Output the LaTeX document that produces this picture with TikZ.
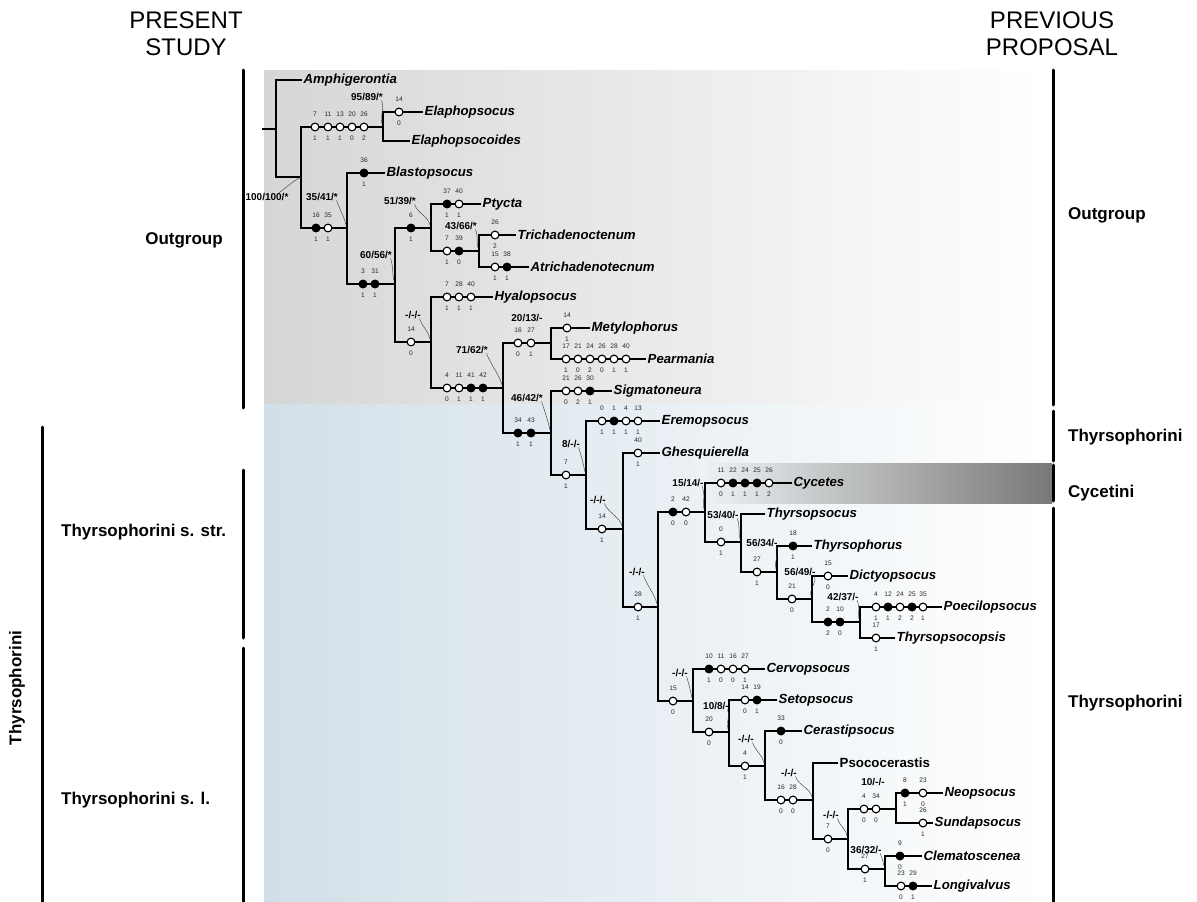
\documentclass[tikz,border=0pt]{standalone}
\usepackage{fontspec}
\setmainfont{Liberation Sans}
\definecolor{bggray}{HTML}{D6D6D6}
\definecolor{bgblue}{HTML}{D2DFE8}
\definecolor{boxdark}{HTML}{787878}
\definecolor{boxlight}{HTML}{EEF2F4}
\tikzset{
 br/.style={line width=1.8pt},
 chc/.style={circle,draw=black,line width=1.1pt,minimum size=7.8pt,inner sep=0pt},
 stn/.style={font=\fontsize{6.6}{7}\selectfont,inner sep=0pt,text=black!85},
 taxon/.style={font=\fontsize{13.2}{15}\selectfont\bfseries\itshape,anchor=west,inner sep=1.5pt},
 taxonup/.style={font=\fontsize{13.3}{15}\selectfont\bfseries,anchor=west,inner sep=1.5pt},
 sv/.style={font=\fontsize{10}{11}\selectfont\bfseries,inner sep=0.5pt},
 ld/.style={line width=0.45pt,black!75},
 grp/.style={font=\fontsize{17}{19}\selectfont\bfseries,inner sep=0pt},
 hdr/.style={font=\fontsize{24}{27}\selectfont,align=center,inner sep=0pt},
 bar/.style={line width=3pt,line cap=round},
}
\newcommand\chars[2]{%
  \foreach \cx/\cf/\ca/\cb in {#2}{%
    \node[chc,fill=\cf] (c\cx-#1) at (\cx,#1) {};
    \node[stn] (c\cx-#1a) at (\cx,#1-12.5) {\ca};
    \node[stn] (c\cx-#1b) at (\cx,#1+11) {\cb};
  }}
\newcommand\lead[2]{%
  \draw[ld] ([xshift=-2pt,yshift=1pt]#1.south east) .. controls +(3,9) and +(-2,-9) .. ([xshift=-1pt,yshift=3pt]#2);}
\begin{document}
\begin{tikzpicture}[x=1pt,y=-1pt]
\useasboundingbox (0,0) rectangle (1197,902);
% backgrounds
\shade[left color=bggray,right color=white] (264,70) rectangle (1045,404);
\shade[left color=bgblue,right color=white] (264,404) rectangle (1045,902);
\shade[left color=boxlight,right color=boxdark] (703,463) rectangle (1052,503);
% headers
\node[hdr] (hpresent) at (186,34) {PRESENT\\STUDY};
\node[hdr] (hprev) at (1052,34) {PREVIOUS\\PROPOSAL};
% left bars and labels
\draw[bar] (243,70) -- (243,408);
\draw[bar] (42,427) -- (42,905);
\draw[bar] (243,470) -- (243,638);
\draw[bar] (243,648) -- (243,905);
\node[grp] (lout) at (184,240) {Outgroup};
\node[grp,rotate=90] (lthy) at (17,688) {Thyrsophorini};
\node[grp,anchor=west] (lstr) at (61,532) {Thyrsophorini s. str.};
\node[grp,anchor=west] (lsl) at (61,800) {Thyrsophorini s. l.};
% right bars and labels
\draw[bar] (1053,70) -- (1053,405);
\draw[bar] (1053,411) -- (1053,461);
\draw[bar] (1053,465) -- (1053,501);
\draw[bar] (1053,508) -- (1053,905);
\node[grp,anchor=west] (rout) at (1068,215) {Outgroup};
\node[grp,anchor=west] (rthy1) at (1068,437) {Thyrsophorini};
\node[grp,anchor=west] (rcyc) at (1068,493) {Cycetini};
\node[grp,anchor=west] (rthy2) at (1068,703) {Thyrsophorini};
% internal nodes
\coordinate (R) at (262,129);
\coordinate (N0) at (276,129);
\coordinate (N1) at (301,177);
\coordinate (N2) at (383,127);
\coordinate (N3) at (347,228);
\coordinate (N4) at (395,284);
\coordinate (N5) at (431,228);
\coordinate (N6) at (431,342);
\coordinate (N7) at (479,251);
\coordinate (N8) at (503,388);
\coordinate (N9) at (551,343);
\coordinate (N10) at (551,433);
\coordinate (N11) at (586,475);
\coordinate (N12) at (623,529);
\coordinate (N13) at (658,607);
\coordinate (N14) at (705,512);
\coordinate (N15) at (693,701);
\coordinate (N16) at (741,542);
\coordinate (N17) at (777,572);
\coordinate (N18) at (812,599);
\coordinate (N19) at (860,622);
\coordinate (N20) at (729,732);
\coordinate (N21) at (765,766);
\coordinate (N22) at (813,800);
\coordinate (N23) at (848,839);
\coordinate (N24) at (896,809);
\coordinate (N25) at (885,869);
% taxa
\node[taxon] (Amph) at (302,80) {Amphigerontia};
\node[taxon] (Elap) at (423,112) {Elaphopsocus};
\node[taxon] (Elas) at (410,141) {Elaphopsocoides};
\node[taxon] (Blas) at (385,173) {Blastopsocus};
\node[taxon] (Ptyc) at (481,204) {Ptycta};
\node[taxon] (Tric) at (516,235) {Trichadenoctenum};
\node[taxon] (Atri) at (529,267) {Atrichadenotecnum};
\node[taxon] (Hyal) at (493,297) {Hyalopsocus};
\node[taxon] (Mety) at (590,328) {Metylophorus};
\node[taxon] (Pear) at (646,359) {Pearmania};
\node[taxon] (Sigm) at (612,391) {Sigmatoneura};
\node[taxon] (Erem) at (660,421) {Eremopsocus};
\node[taxon] (Ghes) at (660,453) {Ghesquierella};
\node[taxon] (Cyce) at (792,483) {Cycetes};
\node[taxon] (Thps) at (765,514) {Thyrsopsocus};
\node[taxon] (Thph) at (812,546) {Thyrsophorus};
\node[taxon] (Dict) at (848,576) {Dictyopsocus};
\node[taxon] (Poec) at (942,607) {Poecilopsocus};
\node[taxon] (Thpc) at (895,638) {Thyrsopsocopsis};
\node[taxon] (Cerv) at (765,669) {Cervopsocus};
\node[taxon] (Seto) at (777,700) {Setopsocus};
\node[taxon] (Cera) at (802,731) {Cerastipsocus};
\node[taxonup] (Psoc) at (838,763) {Psococerastis};
\node[taxon] (Neop) at (943,793) {Neopsocus};
\node[taxon] (Sund) at (933,823) {Sundapsocus};
\node[taxon] (Clem) at (922,856) {Clematoscenea};
\node[taxon] (Long) at (932,886) {Longivalvus};
% branches
\draw[br] (R) -- (N0);
\draw[br] (Amph) -| (N0) |- (N1);
\draw[br] (N2) -| (N1) |- (N3);
\draw[br] (Elap) -| (N2) |- (Elas);
\draw[br] (Blas) -| (N3) |- (N4);
\draw[br] (N5) -| (N4) |- (N6);
\draw[br] (Ptyc) -| (N5) |- (N7);
\draw[br] (Tric) -| (N7) |- (Atri);
\draw[br] (Hyal) -| (N6) |- (N8);
\draw[br] (N9) -| (N8) |- (N10);
\draw[br] (Mety) -| (N9) |- (Pear);
\draw[br] (Sigm) -| (N10) |- (N11);
\draw[br] (Erem) -| (N11) |- (N12);
\draw[br] (Ghes) -| (N12) |- (N13);
\draw[br] (N14) -| (N13) |- (N15);
\draw[br] (Cyce) -| (N14) |- (N16);
\draw[br] (Thps) -| (N16) |- (N17);
\draw[br] (Thph) -| (N17) |- (N18);
\draw[br] (Dict) -| (N18) |- (N19);
\draw[br] (Poec) -| (N19) |- (Thpc);
\draw[br] (Cerv) -| (N15) |- (N20);
\draw[br] (Seto) -| (N20) |- (N21);
\draw[br] (Cera) -| (N21) |- (N22);
\draw[br] (Psoc) -| (N22) |- (N23);
\draw[br] (N24) -| (N23) |- (N25);
\draw[br] (Neop) -| (N24) |- (Sund);
\draw[br] (Clem) -| (N25) |- (Long);
% characters
\chars{127}{315/white/7/1,328/white/11/1,340/white/13/1,352/white/20/0,364/white/26/2}
\chars{112}{399/white/14/0}
\chars{228}{316/black/16/1,328/white/35/1}
\chars{173}{364/black/36/1}
\chars{284}{363/black/3/1,375/black/31/1}
\chars{228}{411/black/6/1}
\chars{204}{447/black/37/1,459/white/40/1}
\chars{251}{447/white/7/1,459/black/39/0}
\chars{235}{495/white/26/2}
\chars{267}{495/white/15/1,507/black/38/1}
\chars{342}{411/white/14/0}
\chars{297}{447/white/7/1,459/white/28/1,471/white/40/1}
\chars{388}{447/white/4/0,459/white/11/1,471/black/41/1,483/black/42/1}
\chars{343}{518/white/16/0,531/white/27/1}
\chars{328}{567/white/14/1}
\chars{359}{566/white/17/1,578/white/21/0,590/white/24/2,602/white/26/0,614/white/28/1,626/white/40/1}
\chars{391}{566/white/21/0,578/white/26/2,590/black/30/1}
\chars{433}{518/black/34/1,531/black/43/1}
\chars{475}{566/white/7/1}
\chars{421}{602/white/0/1,614/black/1/1,626/white/4/1,638/white/13/1}
\chars{529}{602/white/14/1}
\chars{453}{638/white/40/1}
\chars{607}{638/white/28/1}
\chars{512}{673/black/2/0,686/white/42/0}
\chars{483}{721/white/11/0,733/black/22/1,745/black/24/1,757/black/25/1,769/white/26/2}
\chars{542}{721/white/0/1}
\chars{572}{757/white/27/1}
\chars{546}{793/black/18/1}
\chars{599}{792/white/21/0}
\chars{576}{828/white/15/0}
\chars{622}{828/black/2/2,840/black/10/0}
\chars{607}{876/white/4/1,888/black/12/1,900/white/24/2,912/black/25/2,923/white/35/1}
\chars{638}{876/white/17/1}
\chars{701}{673/white/15/0}
\chars{669}{709/black/10/1,721/white/11/0,733/white/16/0,745/white/27/1}
\chars{732}{709/white/20/0}
\chars{700}{745/white/14/0,757/black/19/1}
\chars{766}{745/white/4/1}
\chars{731}{781/black/33/0}
\chars{800}{781/white/16/0,793/white/28/0}
\chars{839}{828/white/7/0}
\chars{809}{864/white/4/0,876/white/34/0}
\chars{793}{905/black/8/1,923/white/23/0}
\chars{823}{923/white/26/1}
\chars{869}{865/white/27/1}
\chars{856}{900/black/9/0}
\chars{886}{901/white/23/0,913/black/29/1}
% support values
\node[sv] (s1) at (267,197) {100/100/*};
\draw[ld] ([xshift=-10pt]s1.north east) .. controls +(6,-4) and +(-8,4) .. (N1);
\node[sv] (s2) at (367,97) {95/89/*}; \lead{s2}{N2}
\node[sv] (s3) at (322,197) {35/41/*}; \lead{s3}{N3}
\node[sv] (s4) at (400,201) {51/39/*}; \lead{s4}{N5}
\node[sv] (s5) at (461,226) {43/66/*}; \lead{s5}{N7}
\node[sv] (s6) at (376,255) {60/56/*}; \lead{s6}{N4}
\node[sv] (s7) at (413,315) {-/-/-}; \lead{s7}{N6}
\node[sv] (s8) at (527,318) {20/13/-};
\node[sv] (s9) at (472,350) {71/62/*}; \lead{s9}{N8}
\node[sv] (s10) at (527,398) {46/42/*}; \lead{s10}{N10}
\node[sv] (s11) at (571,444) {8/-/-}; \lead{s11}{N11}
\node[sv] (s12) at (598,500) {-/-/-}; \lead{s12}{N12}
\node[sv] (s13) at (637,572) {-/-/-}; \lead{s13}{N13}
\node[sv] (s14) at (688,483) {15/14/-}; \lead{s14}{N14}
\node[sv] (s15) at (723,515) {53/40/-}; \lead{s15}{N16}
\node[sv] (s16) at (762,543) {56/34/-}; \lead{s16}{N17}
\node[sv] (s17) at (800,572) {56/49/-}; \lead{s17}{N18}
\node[sv] (s18) at (843,597) {42/37/-}; \lead{s18}{N19}
\node[sv] (s19) at (680,673) {-/-/-}; \lead{s19}{N15}
\node[sv] (s20) at (716,706) {10/8/-}; \lead{s20}{N20}
\node[sv] (s21) at (746,739) {-/-/-}; \lead{s21}{N21}
\node[sv] (s22) at (789,773) {-/-/-}; \lead{s22}{N22}
\node[sv] (s23) at (831,815) {-/-/-}; \lead{s23}{N23}
\node[sv] (s24) at (873,782) {10/-/-};
\node[sv] (s25) at (866,850) {36/32/-}; \lead{s25}{N25}
\end{tikzpicture}
\end{document}
